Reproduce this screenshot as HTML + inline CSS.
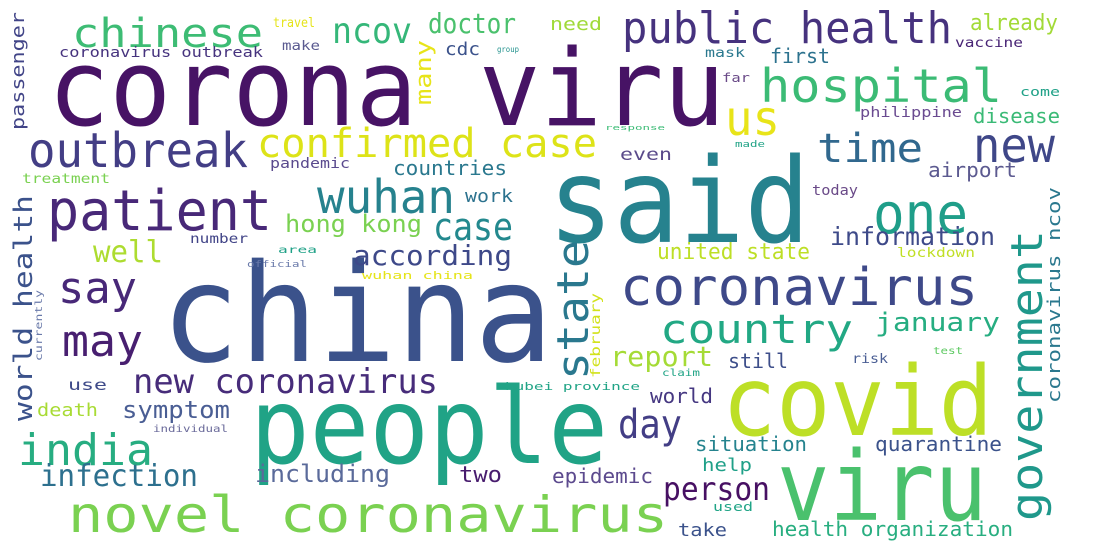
<!DOCTYPE html>
<html><head><meta charset="utf-8"><style>
html,body{margin:0;padding:0;background:#fff;}
svg{display:block;}
text{font-family:"DejaVu Sans Mono","Liberation Mono",monospace;}
</style></head><body>
<svg id="cloud" width="1101" height="558" viewBox="0 0 1101 558" xmlns="http://www.w3.org/2000/svg">
<rect width="1101" height="558" fill="#fff"/>
</svg>
<script>
const words = ["corona viru","said","china","people","covid","viru","coronavirus","novel coronavirus","patient","public health","hospital","outbreak","one","new","us","india","chinese","wuhan","confirmed case","may","say","country","time","day","case","new coronavirus","ncov","person","infection","well","doctor","according","report","information","including","hong kong","january","symptom","united state","already","two","epidemic","countries","first","situation","quarantine","still","work","world","airport","disease","help","death","need","take","health organization","even","cdc","use","coronavirus outbreak","philippine","vaccine","pandemic","treatment","make","mask","travel","risk","today","far","lockdown","number","used","come","hubei province","wuhan china","claim","area","test","official","made","individual","response","group","passenger","many","world health","currently","state","february","government","coronavirus ncov"];
const sizes = [106,118,136,105,96,96,52,50,56,44,46,48,56,48,48,44,40,46,40,44,44,40,40,40,38,34,36,32,30,30,28,28,28,25,24,24,26,24,22,22,22,20,20,20,20,20,20,18,20,20,20,18,18,18,18,20,17,18,15,14,14,13,14,13,13,13,13,13,14,12,13,13,12,12,11,11,10,10,10,9,9,10,7,8,18,22,26,10,44,13,44,18];
const lengths = [677,262,392,358,271,210,358,600,225,330,242,220,95,82,55,135,191,138,340,81,79,193,106,64,80,305,80,107,158,70,88,159,103,165,135,137,125,108,153,88,43,101,114,60,112,127,60,48,63,89,87,50,61,52,49,241,52,35,39,204,102,68,80,88,38,40,42,36,46,28,78,58,40,40,135,111,38,39,30,60,30,75,60,22,118,65,226,71,140,85,291,216];
const xs = [48,548,161,250,722,777,620,68,47,622,760,28,873,973,725,18,72,317,257,62,58,660,817,618,433,133,332,663,40,93,428,353,610,830,255,285,875,122,657,970,459,552,393,770,695,875,728,465,650,928,973,702,37,550,678,772,620,445,68,59,860,955,270,22,282,705,273,852,812,722,897,190,713,1020,505,362,662,278,933,247,735,153,605,497,24,431,32,42,588,600,1042,1060];
const ys = [125,242,361,463,435,520,305,532,230,43,102,167,233,162,135,465,47,213,157,356,303,343,162,438,240,393,43,500,486,262,33,265,366,245,482,232,331,418,259,30,482,483,175,63,451,451,368,202,403,177,123,471,416,30,536,536,160,55,390,57,117,47,168,183,50,57,27,363,195,82,257,243,511,96,390,279,376,253,354,267,147,432,130,52,130,105,421,361,380,378,521,403];
const rotated = [0,0,0,0,0,0,0,0,0,0,0,0,0,0,0,0,0,0,0,0,0,0,0,0,0,0,0,0,0,0,0,0,0,0,0,0,0,0,0,0,0,0,0,0,0,0,0,0,0,0,0,0,0,0,0,0,0,0,0,0,0,0,0,0,0,0,0,0,0,0,0,0,0,0,0,0,0,0,0,0,0,0,0,0,1,1,1,1,1,1,1,1];
const colors = ["#471365","#26828e","#3b528b","#20a386","#bddf26","#4ac16d","#3e4989","#7ad151","#482878","#46327e","#3bbb75","#433e85","#1f9e89","#3f4788","#e8e419","#27ad81","#3dbc74","#26828e","#dde318","#481f70","#482878","#22a884","#31688e","#433e85","#23898e","#472c7a","#35b779","#471063","#2d708e","#addc30","#4ac16d","#3e4989","#a5db36","#3e4a89","#5a6a9a","#7ad151","#26ad81","#4a5e94","#bddf26","#a2da37","#481c6e","#5c4a8e","#2a788e","#2c728e","#25838e","#3b528b","#3d4e8a","#2c728e","#453781","#5c5a90","#3aba76","#1fa088","#a8db34","#a0da39","#3b528b","#28ae80","#5a4a8a","#3b528b","#3e4a89","#46337e","#6a4a90","#482475","#5a4a8e","#7ad151","#5a5a90","#2a788e","#e5e419","#4a5e94","#6a4a88","#6a4a88","#c0df25","#414487","#20a486","#1fa187","#20a486","#e5e419","#20a486","#1fa187","#5ec962","#6a7aaa","#20a386","#6a6a9a","#3bbb75","#21918c","#414487","#e7e419","#3b528b","#6a7aaa","#2a788e","#d2e21b","#1f988b","#2a788e"];
const svg = document.getElementById('cloud');
for (let i = 0; i < words.length; i++) {
  const t = document.createElementNS('http://www.w3.org/2000/svg', 'text');
  
  
  t.setAttribute('font-size', sizes[i]);
  t.setAttribute('fill', colors[i]);
  t.setAttribute('textLength', lengths[i]);
  t.setAttribute('lengthAdjust', 'spacingAndGlyphs');
  if (rotated[i]) {
    t.setAttribute('x', 0);
    t.setAttribute('y', 0);
    t.setAttribute('transform', 'translate(' + xs[i] + ',' + ys[i] + ') rotate(-90)');
  } else {
    t.setAttribute('x', xs[i]);
    t.setAttribute('y', ys[i]);
  }
  t.textContent = words[i];
  svg.appendChild(t);
}
</script>
</body></html>
